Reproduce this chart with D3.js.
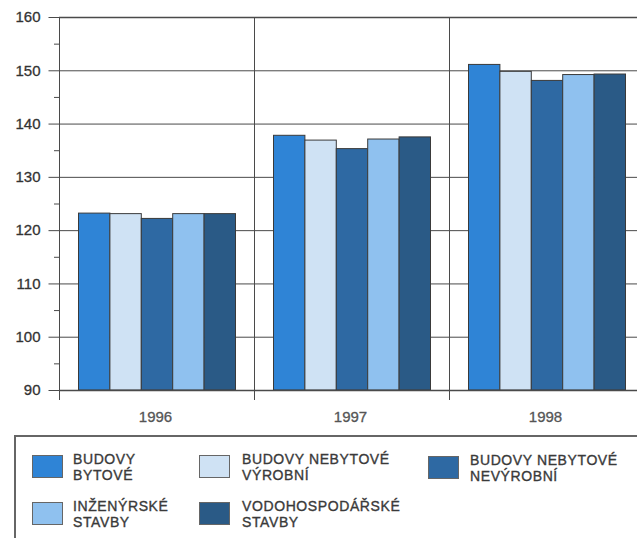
<!DOCTYPE html>
<html><head><meta charset="utf-8">
<script src="https://cdn.jsdelivr.net/npm/d3@7"></script>
<style>body{margin:0;background:#fff}svg{display:block}</style>
</head><body>
<svg id="c" width="637" height="538"></svg>
<script>
const years = ["1996","1997","1998"];
const seriesNames = [
  ["BUDOVY","BYTOVÉ"],
  ["BUDOVY NEBYTOVÉ","VÝROBNÍ"],
  ["BUDOVY NEBYTOVÉ","NEVÝROBNÍ"],
  ["INŽENÝRSKÉ","STAVBY"],
  ["VODOHOSPODÁŘSKÉ","STAVBY"]
];
const s1 = [123.2, 137.8, 151.1];
const s2 = [123.1, 136.9, 149.8];
const s3 = [122.2, 135.3, 148.1];
const s4 = [123.1, 137.1, 149.2];
const s5 = [123.1, 137.5, 149.3];
const seriesValues = [s1, s2, s3, s4, s5];
const colors = ["#2f84d6", "#cfe2f4", "#2e69a3", "#8fc1ef", "#2a5a86"];
const yTicks = [90,100,110,120,130,140,150,160];
const yMinor = [95,105,115,125,135,145,155];

(function(){
const svg = d3.select("#c");
const left = 59, plotTop = 17, bottom = 390, bandW = 195;
const y = d3.scaleLinear().domain([90,160]).range([bottom, plotTop]);
const x0 = d3.scaleBand().domain(years).range([left, left + bandW*years.length]).padding(0);
const x1 = d3.scaleBand().domain(d3.range(5)).range([19, bandW-19]).padding(0);
const ink = "#4a4a4a";
const font = "Liberation Sans, Arial, sans-serif";

// gridlines
svg.append("g").selectAll("line").data(yTicks.slice(1)).join("line")
  .attr("x1", left).attr("x2", 637).attr("y1", d=>y(d)+0.5).attr("y2", d=>y(d)+0.5)
  .attr("stroke", ink).attr("stroke-width", d=>d===160?1.5:1);

// vertical separators
svg.append("g").selectAll("line").data(years.slice(1)).join("line")
  .attr("x1", d=>x0(d)+0.5).attr("x2", d=>x0(d)+0.5).attr("y1", plotTop).attr("y2", bottom+10)
  .attr("stroke", ink).attr("stroke-width", 1);

// bars
const g = svg.append("g");
years.forEach((yr, i) => {
  seriesValues.forEach((vals, k) => {
    g.append("rect")
      .attr("x", x0(yr) + x1(k) + 0.5)
      .attr("y", y(vals[i]))
      .attr("width", x1.bandwidth())
      .attr("height", bottom - y(vals[i]))
      .attr("fill", colors[k])
      .attr("stroke", "#3a3a3a").attr("stroke-width", 1);
  });
});

// y axis
const yAxis = d3.axisLeft(y).tickValues(yTicks).tickSize(11).tickPadding(8);
const ya = svg.append("g").attr("transform", `translate(${left+0.5},0)`).call(yAxis);
ya.select(".domain").attr("stroke", ink).attr("d", `M0,${plotTop}V${bottom+10}`);
ya.selectAll(".tick line").attr("stroke", ink);
ya.selectAll("text").attr("fill", "#333").attr("stroke", "#333").attr("stroke-width", 0.3)
  .style("font-family", font).style("font-size", "15px");
svg.append("g").selectAll("line").data(yMinor).join("line")
  .attr("x1", left-5).attr("x2", left).attr("y1", d=>y(d)+0.5).attr("y2", d=>y(d)+0.5)
  .attr("stroke", ink);

// x axis
svg.append("line").attr("x1", left).attr("x2", 637).attr("y1", bottom+0.5).attr("y2", bottom+0.5)
  .attr("stroke", ink).attr("stroke-width", 1.5);
svg.append("g").selectAll("text").data(years).join("text")
  .attr("x", d=>x0(d)+x0.bandwidth()/2 - 1).attr("y", 422)
  .attr("text-anchor", "middle").attr("fill", "#555").attr("stroke", "#555").attr("stroke-width", 0.3)
  .style("font-family", font).style("font-size", "15px")
  .text(d=>d);

// legend
svg.append("rect").attr("x", 15).attr("y", 436).attr("width", 640).attr("height", 120)
  .attr("fill", "none").attr("stroke", "#666").attr("stroke-width", 2);
const legPos = [[32,455],[199,455],[428,456],[32,502],[199,502]];
const textX = [73,242,470,73,242];
seriesNames.forEach((nm, k) => {
  const [lx, ly] = legPos[k];
  svg.append("rect").attr("x", lx+0.5).attr("y", ly+0.5).attr("width", 30).attr("height", 22)
    .attr("fill", colors[k]).attr("stroke", "#666").attr("stroke-width", 1);
  nm.forEach((line, j) => {
    svg.append("text").attr("x", textX[k]).attr("y", ly + 9 + j*16)
      .attr("fill", "#3a3a3a").attr("stroke", "#3a3a3a").attr("stroke-width", 0.35)
      .style("font-family", font).style("font-size", "14px")
      .style("letter-spacing", "0.6px")
      .text(line);
  });
});
})();
</script>
</body></html>
